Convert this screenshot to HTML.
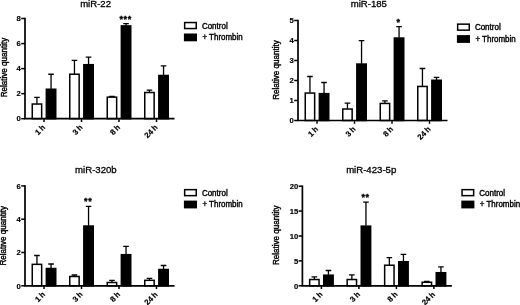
<!DOCTYPE html>
<html><head><meta charset="utf-8"><title>Figure</title>
<style>html,body{margin:0;padding:0;background:#fff;overflow:hidden}svg{display:block;filter:blur(0.35px)}</style>
</head><body>
<svg width="520" height="305" viewBox="0 0 520 305" font-family="'Liberation Sans', Arial, sans-serif" fill="#000">
<rect width="520" height="305" fill="#fff"/>
<g><text x="95.6" y="6.9" font-size="9.6" stroke="#000" stroke-width="0.3" text-anchor="middle">miR-22</text><text transform="translate(6.70,67.50) rotate(-90)" font-size="8.4" textLength="59.6" lengthAdjust="spacingAndGlyphs" stroke="#000" stroke-width="0.4" text-anchor="middle">Relative quantity</text><path d="M36.95 103.68V97.42M34.15 97.42H39.75" stroke="#000" stroke-width="1.3" fill="none"/><rect x="32.25" y="104.03" width="9.40" height="14.67" fill="#fff" stroke="#000" stroke-width="1.5"/><path d="M51.05 88.90V74.25M48.25 74.25H53.85" stroke="#000" stroke-width="1.3" fill="none"/><rect x="46.35" y="89.25" width="9.40" height="29.45" fill="#000" stroke="#000" stroke-width="1.5"/><path d="M44.00 118.70V122.00" stroke="#000" stroke-width="1.5"/><text transform="translate(45.70,127.90) rotate(-45)" font-size="7.8" font-weight="bold" word-spacing="-0.6" stroke="#000" stroke-width="0.2" text-anchor="end">1 h</text><path d="M74.45 73.88V60.36M71.65 60.36H77.25" stroke="#000" stroke-width="1.3" fill="none"/><rect x="69.75" y="74.23" width="9.40" height="44.47" fill="#fff" stroke="#000" stroke-width="1.5"/><path d="M88.55 64.36V57.10M85.75 57.10H91.35" stroke="#000" stroke-width="1.3" fill="none"/><rect x="83.85" y="64.71" width="9.40" height="53.99" fill="#000" stroke="#000" stroke-width="1.5"/><path d="M81.50 118.70V122.00" stroke="#000" stroke-width="1.5"/><text transform="translate(83.20,127.90) rotate(-45)" font-size="7.8" font-weight="bold" word-spacing="-0.6" stroke="#000" stroke-width="0.2" text-anchor="end">3 h</text><path d="M111.95 96.79V96.41M109.15 96.41H114.75" stroke="#000" stroke-width="1.3" fill="none"/><rect x="107.25" y="97.14" width="9.40" height="21.56" fill="#fff" stroke="#000" stroke-width="1.5"/><path d="M126.05 25.55V23.55M123.25 23.55H128.85" stroke="#000" stroke-width="1.3" fill="none"/><rect x="121.35" y="25.90" width="9.40" height="92.80" fill="#000" stroke="#000" stroke-width="1.5"/><path d="M119.00 118.70V122.00" stroke="#000" stroke-width="1.5"/><text transform="translate(120.70,127.90) rotate(-45)" font-size="7.8" font-weight="bold" word-spacing="-0.6" stroke="#000" stroke-width="0.2" text-anchor="end">8 h</text><path d="M149.45 92.16V90.15M146.65 90.15H152.25" stroke="#000" stroke-width="1.3" fill="none"/><rect x="144.75" y="92.51" width="9.40" height="26.19" fill="#fff" stroke="#000" stroke-width="1.5"/><path d="M163.55 75.13V65.87M160.75 65.87H166.35" stroke="#000" stroke-width="1.3" fill="none"/><rect x="158.85" y="75.48" width="9.40" height="43.22" fill="#000" stroke="#000" stroke-width="1.5"/><path d="M156.50 118.70V122.00" stroke="#000" stroke-width="1.5"/><text transform="translate(158.20,127.90) rotate(-45)" font-size="7.8" font-weight="bold" word-spacing="-0.6" stroke="#000" stroke-width="0.2" text-anchor="end">24 h</text><path d="M25.00 17.75V118.70H174.50" stroke="#000" stroke-width="1.7" fill="none" stroke-linejoin="miter"/><path d="M21.20 118.70H25.00" stroke="#000" stroke-width="1.5"/><text x="20.80" y="121.45" font-size="7.7" font-weight="bold" stroke="#000" stroke-width="0.15" text-anchor="end">0</text><path d="M21.20 93.66H25.00" stroke="#000" stroke-width="1.5"/><text x="20.80" y="96.41" font-size="7.7" font-weight="bold" stroke="#000" stroke-width="0.15" text-anchor="end">2</text><path d="M21.20 68.62H25.00" stroke="#000" stroke-width="1.5"/><text x="20.80" y="71.37" font-size="7.7" font-weight="bold" stroke="#000" stroke-width="0.15" text-anchor="end">4</text><path d="M21.20 43.58H25.00" stroke="#000" stroke-width="1.5"/><text x="20.80" y="46.33" font-size="7.7" font-weight="bold" stroke="#000" stroke-width="0.15" text-anchor="end">6</text><path d="M21.20 18.50H25.00" stroke="#000" stroke-width="1.5"/><text x="20.80" y="21.25" font-size="7.7" font-weight="bold" stroke="#000" stroke-width="0.15" text-anchor="end">8</text><text x="125.65" y="22.00" font-size="9" font-weight="bold" letter-spacing="0.6" stroke="#000" stroke-width="0.35" text-anchor="middle">***</text><rect x="184.65" y="22.55" width="11.60" height="6.00" fill="#fff" stroke="#000" stroke-width="1.5"/><rect x="183.90" y="33.50" width="13.1" height="7.8" fill="#000"/><text x="201.90" y="28.60" font-size="8.6" textLength="25.8" lengthAdjust="spacingAndGlyphs" stroke="#000" stroke-width="0.4">Control</text><text x="202.40" y="40.10" font-size="8.6" textLength="40.3" lengthAdjust="spacingAndGlyphs" stroke="#000" stroke-width="0.4">+ Thrombin</text></g>
<g><text x="368.8" y="6.9" font-size="9.6" stroke="#000" stroke-width="0.3" text-anchor="middle">miR-185</text><text transform="translate(278.90,70.00) rotate(-90)" font-size="8.4" textLength="59.6" lengthAdjust="spacingAndGlyphs" stroke="#000" stroke-width="0.4" text-anchor="middle">Relative quantity</text><path d="M309.95 92.70V76.50M307.15 76.50H312.75" stroke="#000" stroke-width="1.3" fill="none"/><rect x="305.25" y="93.05" width="9.40" height="27.45" fill="#fff" stroke="#000" stroke-width="1.5"/><path d="M324.05 93.30V82.50M321.25 82.50H326.85" stroke="#000" stroke-width="1.3" fill="none"/><rect x="319.35" y="93.65" width="9.40" height="26.85" fill="#000" stroke="#000" stroke-width="1.5"/><path d="M317.00 120.50V123.80" stroke="#000" stroke-width="1.5"/><text transform="translate(318.70,129.70) rotate(-45)" font-size="7.8" font-weight="bold" word-spacing="-0.6" stroke="#000" stroke-width="0.2" text-anchor="end">1 h</text><path d="M347.45 108.70V103.10M344.65 103.10H350.25" stroke="#000" stroke-width="1.3" fill="none"/><rect x="342.75" y="109.05" width="9.40" height="11.45" fill="#fff" stroke="#000" stroke-width="1.5"/><path d="M361.55 63.70V40.70M358.75 40.70H364.35" stroke="#000" stroke-width="1.3" fill="none"/><rect x="356.85" y="64.05" width="9.40" height="56.45" fill="#000" stroke="#000" stroke-width="1.5"/><path d="M354.50 120.50V123.80" stroke="#000" stroke-width="1.5"/><text transform="translate(356.20,129.70) rotate(-45)" font-size="7.8" font-weight="bold" word-spacing="-0.6" stroke="#000" stroke-width="0.2" text-anchor="end">3 h</text><path d="M384.95 103.10V100.90M382.15 100.90H387.75" stroke="#000" stroke-width="1.3" fill="none"/><rect x="380.25" y="103.45" width="9.40" height="17.05" fill="#fff" stroke="#000" stroke-width="1.5"/><path d="M399.05 37.70V26.70M396.25 26.70H401.85" stroke="#000" stroke-width="1.3" fill="none"/><rect x="394.35" y="38.05" width="9.40" height="82.45" fill="#000" stroke="#000" stroke-width="1.5"/><path d="M392.00 120.50V123.80" stroke="#000" stroke-width="1.5"/><text transform="translate(393.70,129.70) rotate(-45)" font-size="7.8" font-weight="bold" word-spacing="-0.6" stroke="#000" stroke-width="0.2" text-anchor="end">8 h</text><path d="M422.45 86.10V68.50M419.65 68.50H425.25" stroke="#000" stroke-width="1.3" fill="none"/><rect x="417.75" y="86.45" width="9.40" height="34.05" fill="#fff" stroke="#000" stroke-width="1.5"/><path d="M436.55 79.90V77.30M433.75 77.30H439.35" stroke="#000" stroke-width="1.3" fill="none"/><rect x="431.85" y="80.25" width="9.40" height="40.25" fill="#000" stroke="#000" stroke-width="1.5"/><path d="M429.50 120.50V123.80" stroke="#000" stroke-width="1.5"/><text transform="translate(431.20,129.70) rotate(-45)" font-size="7.8" font-weight="bold" word-spacing="-0.6" stroke="#000" stroke-width="0.2" text-anchor="end">24 h</text><path d="M298.00 19.75V120.50H447.50" stroke="#000" stroke-width="1.7" fill="none" stroke-linejoin="miter"/><path d="M294.20 120.50H298.00" stroke="#000" stroke-width="1.5"/><text x="293.80" y="123.25" font-size="7.7" font-weight="bold" stroke="#000" stroke-width="0.15" text-anchor="end">0</text><path d="M294.20 100.50H298.00" stroke="#000" stroke-width="1.5"/><text x="293.80" y="103.25" font-size="7.7" font-weight="bold" stroke="#000" stroke-width="0.15" text-anchor="end">1</text><path d="M294.20 80.50H298.00" stroke="#000" stroke-width="1.5"/><text x="293.80" y="83.25" font-size="7.7" font-weight="bold" stroke="#000" stroke-width="0.15" text-anchor="end">2</text><path d="M294.20 60.50H298.00" stroke="#000" stroke-width="1.5"/><text x="293.80" y="63.25" font-size="7.7" font-weight="bold" stroke="#000" stroke-width="0.15" text-anchor="end">3</text><path d="M294.20 40.50H298.00" stroke="#000" stroke-width="1.5"/><text x="293.80" y="43.25" font-size="7.7" font-weight="bold" stroke="#000" stroke-width="0.15" text-anchor="end">4</text><path d="M294.20 20.50H298.00" stroke="#000" stroke-width="1.5"/><text x="293.80" y="23.25" font-size="7.7" font-weight="bold" stroke="#000" stroke-width="0.15" text-anchor="end">5</text><text x="398.65" y="24.60" font-size="9" font-weight="bold" letter-spacing="0.6" stroke="#000" stroke-width="0.35" text-anchor="middle">*</text><rect x="457.65" y="24.15" width="11.60" height="6.00" fill="#fff" stroke="#000" stroke-width="1.5"/><rect x="456.90" y="35.10" width="13.1" height="7.8" fill="#000"/><text x="474.90" y="30.20" font-size="8.6" textLength="25.8" lengthAdjust="spacingAndGlyphs" stroke="#000" stroke-width="0.4">Control</text><text x="475.40" y="41.70" font-size="8.6" textLength="40.3" lengthAdjust="spacingAndGlyphs" stroke="#000" stroke-width="0.4">+ Thrombin</text></g>
<g><text x="95.9" y="172.7" font-size="9.6" stroke="#000" stroke-width="0.3" text-anchor="middle">miR-320b</text><text transform="translate(6.20,235.80) rotate(-90)" font-size="8.4" textLength="59.6" lengthAdjust="spacingAndGlyphs" stroke="#000" stroke-width="0.4" text-anchor="middle">Relative quantity</text><path d="M36.95 263.99V255.50M34.15 255.50H39.75" stroke="#000" stroke-width="1.3" fill="none"/><rect x="32.25" y="264.34" width="9.40" height="21.46" fill="#fff" stroke="#000" stroke-width="1.5"/><path d="M51.05 268.15V263.99M48.25 263.99H53.85" stroke="#000" stroke-width="1.3" fill="none"/><rect x="46.35" y="268.50" width="9.40" height="17.30" fill="#000" stroke="#000" stroke-width="1.5"/><path d="M44.00 285.80V289.10" stroke="#000" stroke-width="1.5"/><text transform="translate(45.70,295.00) rotate(-45)" font-size="7.8" font-weight="bold" word-spacing="-0.6" stroke="#000" stroke-width="0.2" text-anchor="end">1 h</text><path d="M74.45 276.14V274.98M71.65 274.98H77.25" stroke="#000" stroke-width="1.3" fill="none"/><rect x="69.75" y="276.49" width="9.40" height="9.31" fill="#fff" stroke="#000" stroke-width="1.5"/><path d="M88.55 225.69V206.38M85.75 206.38H91.35" stroke="#000" stroke-width="1.3" fill="none"/><rect x="83.85" y="226.04" width="9.40" height="59.76" fill="#000" stroke="#000" stroke-width="1.5"/><path d="M81.50 285.80V289.10" stroke="#000" stroke-width="1.5"/><text transform="translate(83.20,295.00) rotate(-45)" font-size="7.8" font-weight="bold" word-spacing="-0.6" stroke="#000" stroke-width="0.2" text-anchor="end">3 h</text><path d="M111.95 282.14V280.47M109.15 280.47H114.75" stroke="#000" stroke-width="1.3" fill="none"/><rect x="107.25" y="282.49" width="9.40" height="3.31" fill="#fff" stroke="#000" stroke-width="1.5"/><path d="M126.05 254.33V246.34M123.25 246.34H128.85" stroke="#000" stroke-width="1.3" fill="none"/><rect x="121.35" y="254.68" width="9.40" height="31.12" fill="#000" stroke="#000" stroke-width="1.5"/><path d="M119.00 285.80V289.10" stroke="#000" stroke-width="1.5"/><text transform="translate(120.70,295.00) rotate(-45)" font-size="7.8" font-weight="bold" word-spacing="-0.6" stroke="#000" stroke-width="0.2" text-anchor="end">8 h</text><path d="M149.45 279.97V278.31M146.65 278.31H152.25" stroke="#000" stroke-width="1.3" fill="none"/><rect x="144.75" y="280.32" width="9.40" height="5.48" fill="#fff" stroke="#000" stroke-width="1.5"/><path d="M163.55 269.15V265.49M160.75 265.49H166.35" stroke="#000" stroke-width="1.3" fill="none"/><rect x="158.85" y="269.50" width="9.40" height="16.30" fill="#000" stroke="#000" stroke-width="1.5"/><path d="M156.50 285.80V289.10" stroke="#000" stroke-width="1.5"/><text transform="translate(158.20,295.00) rotate(-45)" font-size="7.8" font-weight="bold" word-spacing="-0.6" stroke="#000" stroke-width="0.2" text-anchor="end">24 h</text><path d="M25.00 185.15V285.80H174.50" stroke="#000" stroke-width="1.7" fill="none" stroke-linejoin="miter"/><path d="M21.20 285.80H25.00" stroke="#000" stroke-width="1.5"/><text x="20.80" y="288.55" font-size="7.7" font-weight="bold" stroke="#000" stroke-width="0.15" text-anchor="end">0</text><path d="M21.20 252.50H25.00" stroke="#000" stroke-width="1.5"/><text x="20.80" y="255.25" font-size="7.7" font-weight="bold" stroke="#000" stroke-width="0.15" text-anchor="end">2</text><path d="M21.20 219.20H25.00" stroke="#000" stroke-width="1.5"/><text x="20.80" y="221.95" font-size="7.7" font-weight="bold" stroke="#000" stroke-width="0.15" text-anchor="end">4</text><path d="M21.20 185.90H25.00" stroke="#000" stroke-width="1.5"/><text x="20.80" y="188.65" font-size="7.7" font-weight="bold" stroke="#000" stroke-width="0.15" text-anchor="end">6</text><text x="88.15" y="204.00" font-size="9" font-weight="bold" letter-spacing="0.6" stroke="#000" stroke-width="0.35" text-anchor="middle">**</text><rect x="184.65" y="189.65" width="11.60" height="6.00" fill="#fff" stroke="#000" stroke-width="1.5"/><rect x="183.90" y="200.60" width="13.1" height="7.8" fill="#000"/><text x="201.90" y="195.70" font-size="8.6" textLength="25.8" lengthAdjust="spacingAndGlyphs" stroke="#000" stroke-width="0.4">Control</text><text x="202.40" y="207.20" font-size="8.6" textLength="40.3" lengthAdjust="spacingAndGlyphs" stroke="#000" stroke-width="0.4">+ Thrombin</text></g>
<g><text x="371.2" y="172.6" font-size="9.6" stroke="#000" stroke-width="0.3" text-anchor="middle">miR-423-5p</text><text transform="translate(279.20,235.30) rotate(-90)" font-size="8.4" textLength="59.6" lengthAdjust="spacingAndGlyphs" stroke="#000" stroke-width="0.4" text-anchor="middle">Relative quantity</text><path d="M314.35 279.18V276.84M311.55 276.84H317.15" stroke="#000" stroke-width="1.3" fill="none"/><rect x="309.65" y="279.53" width="9.40" height="6.27" fill="#fff" stroke="#000" stroke-width="1.5"/><path d="M328.45 274.84V270.51M325.65 270.51H331.25" stroke="#000" stroke-width="1.3" fill="none"/><rect x="323.75" y="275.19" width="9.40" height="10.61" fill="#000" stroke="#000" stroke-width="1.5"/><path d="M321.40 285.80V289.10" stroke="#000" stroke-width="1.5"/><text transform="translate(323.10,295.00) rotate(-45)" font-size="7.8" font-weight="bold" word-spacing="-0.6" stroke="#000" stroke-width="0.2" text-anchor="end">1 h</text><path d="M351.85 279.18V274.84M349.05 274.84H354.65" stroke="#000" stroke-width="1.3" fill="none"/><rect x="347.15" y="279.53" width="9.40" height="6.27" fill="#fff" stroke="#000" stroke-width="1.5"/><path d="M365.95 225.79V202.14M363.15 202.14H368.75" stroke="#000" stroke-width="1.3" fill="none"/><rect x="361.25" y="226.14" width="9.40" height="59.66" fill="#000" stroke="#000" stroke-width="1.5"/><path d="M358.90 285.80V289.10" stroke="#000" stroke-width="1.5"/><text transform="translate(360.60,295.00) rotate(-45)" font-size="7.8" font-weight="bold" word-spacing="-0.6" stroke="#000" stroke-width="0.2" text-anchor="end">3 h</text><path d="M389.35 264.88V257.71M386.55 257.71H392.15" stroke="#000" stroke-width="1.3" fill="none"/><rect x="384.65" y="265.23" width="9.40" height="20.57" fill="#fff" stroke="#000" stroke-width="1.5"/><path d="M403.45 261.40V254.43M400.65 254.43H406.25" stroke="#000" stroke-width="1.3" fill="none"/><rect x="398.75" y="261.75" width="9.40" height="24.05" fill="#000" stroke="#000" stroke-width="1.5"/><path d="M396.40 285.80V289.10" stroke="#000" stroke-width="1.5"/><text transform="translate(398.10,295.00) rotate(-45)" font-size="7.8" font-weight="bold" word-spacing="-0.6" stroke="#000" stroke-width="0.2" text-anchor="end">8 h</text><path d="M426.85 281.92V281.32M424.05 281.32H429.65" stroke="#000" stroke-width="1.3" fill="none"/><rect x="422.15" y="282.27" width="9.40" height="3.53" fill="#fff" stroke="#000" stroke-width="1.5"/><path d="M440.95 272.35V266.88M438.15 266.88H443.75" stroke="#000" stroke-width="1.3" fill="none"/><rect x="436.25" y="272.70" width="9.40" height="13.10" fill="#000" stroke="#000" stroke-width="1.5"/><path d="M433.90 285.80V289.10" stroke="#000" stroke-width="1.5"/><text transform="translate(435.60,295.00) rotate(-45)" font-size="7.8" font-weight="bold" word-spacing="-0.6" stroke="#000" stroke-width="0.2" text-anchor="end">24 h</text><path d="M302.40 185.45V285.80H451.90" stroke="#000" stroke-width="1.7" fill="none" stroke-linejoin="miter"/><path d="M298.60 285.80H302.40" stroke="#000" stroke-width="1.5"/><text x="298.20" y="288.55" font-size="7.7" font-weight="bold" stroke="#000" stroke-width="0.15" text-anchor="end">0</text><path d="M298.60 260.90H302.40" stroke="#000" stroke-width="1.5"/><text x="298.20" y="263.65" font-size="7.7" font-weight="bold" stroke="#000" stroke-width="0.15" text-anchor="end">5</text><path d="M298.60 236.00H302.40" stroke="#000" stroke-width="1.5"/><text x="298.20" y="238.75" font-size="7.7" font-weight="bold" stroke="#000" stroke-width="0.15" text-anchor="end">10</text><path d="M298.60 211.10H302.40" stroke="#000" stroke-width="1.5"/><text x="298.20" y="213.85" font-size="7.7" font-weight="bold" stroke="#000" stroke-width="0.15" text-anchor="end">15</text><path d="M298.60 186.20H302.40" stroke="#000" stroke-width="1.5"/><text x="298.20" y="188.95" font-size="7.7" font-weight="bold" stroke="#000" stroke-width="0.15" text-anchor="end">20</text><text x="365.55" y="200.10" font-size="9" font-weight="bold" letter-spacing="0.6" stroke="#000" stroke-width="0.35" text-anchor="middle">**</text><rect x="462.05" y="189.65" width="11.60" height="6.00" fill="#fff" stroke="#000" stroke-width="1.5"/><rect x="461.30" y="200.60" width="13.1" height="7.8" fill="#000"/><text x="479.30" y="195.70" font-size="8.6" textLength="25.8" lengthAdjust="spacingAndGlyphs" stroke="#000" stroke-width="0.4">Control</text><text x="479.80" y="207.20" font-size="8.6" textLength="40.3" lengthAdjust="spacingAndGlyphs" stroke="#000" stroke-width="0.4">+ Thrombin</text></g>
</svg>
</body></html>
